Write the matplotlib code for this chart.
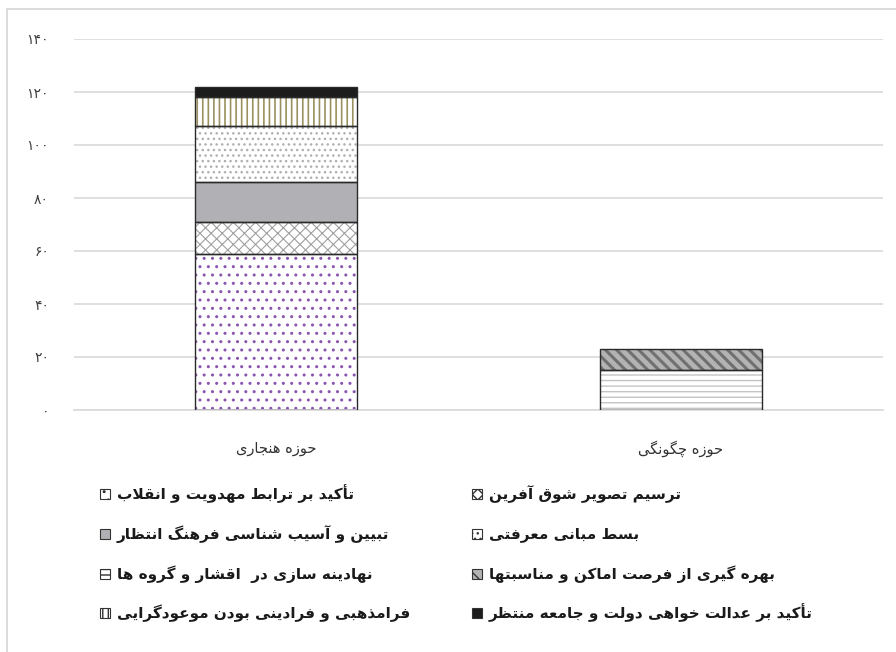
import numpy as np
import matplotlib.pyplot as plt
from matplotlib.patches import Rectangle

# --- data ---------------------------------------------------------------
categories = ['حوزه هنجاری', 'حوزه چگونگی']

series_names = [
    'تأکید بر ترابط مهدویت و انقلاب',
    'ترسیم تصویر شوق آفرین',
    'تبیین و آسیب شناسی فرهنگ انتظار',
    'بسط مبانی معرفتی',
    'فرامذهبی و فرادینی بودن موعودگرایی',
    'تأکید بر عدالت خواهی دولت و جامعه منتظر',
    'نهادینه سازی در  اقشار و گروه ها',
    'بهره گیری از فرصت اماکن و مناسبتها',
]
mahdaviat = [59, 0]
shogh = [12, 0]
farhang = [15, 0]
marefati = [21, 0]
faramazhabi = [11, 0]
edalat = [4, 0]
nahadine = [0, 15]
bahregiri = [0, 8]

series_values = [mahdaviat, shogh, farhang, marefati, faramazhabi, edalat,
                 nahadine, bahregiri]
yticks = [0, 20, 40, 60, 80, 100, 120, 140]

# fill, hatch colour, hatch, hatch width
styles = [
    ('white', '#8a55b0', '..', 1.0),
    ('white', '#a0a0a0', 'xxx', 0.8),
    ('#b1b1b5', '#b1b1b5', '', 1.0),
    ('white', '#b0b0b0', '...', 1.0),
    ('white', '#9a9060', '|||', 1.2),
    ('#1c1c1c', '#1c1c1c', '', 1.0),
    ('white', '#c4c4c4', '---', 1.0),
    ('#b3b3b3', '#707070', '\\\\\\', 2.2),
]

# --- simple arabic/persian shaping (matplotlib has no bidi) ---------------
FORMS = {
    'ا': (0xFE8D, 0xFE8E), 'آ': (0xFE81, 0xFE82), 'أ': (0xFE83, 0xFE84),
    'د': (0xFEA9, 0xFEAA), 'ذ': (0xFEAB, 0xFEAC), 'ر': (0xFEAD, 0xFEAE),
    'ز': (0xFEAF, 0xFEB0), 'ژ': (0xFB8A, 0xFB8B), 'و': (0xFEED, 0xFEEE),
    'ب': (0xFE8F, 0xFE90, 0xFE91, 0xFE92), 'پ': (0xFB56, 0xFB57, 0xFB58, 0xFB59),
    'ت': (0xFE95, 0xFE96, 0xFE97, 0xFE98), 'ث': (0xFE99, 0xFE9A, 0xFE9B, 0xFE9C),
    'ج': (0xFE9D, 0xFE9E, 0xFE9F, 0xFEA0), 'چ': (0xFB7A, 0xFB7B, 0xFB7C, 0xFB7D),
    'ح': (0xFEA1, 0xFEA2, 0xFEA3, 0xFEA4), 'خ': (0xFEA5, 0xFEA6, 0xFEA7, 0xFEA8),
    'س': (0xFEB1, 0xFEB2, 0xFEB3, 0xFEB4), 'ش': (0xFEB5, 0xFEB6, 0xFEB7, 0xFEB8),
    'ص': (0xFEB9, 0xFEBA, 0xFEBB, 0xFEBC), 'ض': (0xFEBD, 0xFEBE, 0xFEBF, 0xFEC0),
    'ط': (0xFEC1, 0xFEC2, 0xFEC3, 0xFEC4), 'ظ': (0xFEC5, 0xFEC6, 0xFEC7, 0xFEC8),
    'ع': (0xFEC9, 0xFECA, 0xFECB, 0xFECC), 'غ': (0xFECD, 0xFECE, 0xFECF, 0xFED0),
    'ف': (0xFED1, 0xFED2, 0xFED3, 0xFED4), 'ق': (0xFED5, 0xFED6, 0xFED7, 0xFED8),
    'ک': (0xFB8E, 0xFB8F, 0xFB90, 0xFB91), 'گ': (0xFB92, 0xFB93, 0xFB94, 0xFB95),
    'ل': (0xFEDD, 0xFEDE, 0xFEDF, 0xFEE0), 'م': (0xFEE1, 0xFEE2, 0xFEE3, 0xFEE4),
    'ن': (0xFEE5, 0xFEE6, 0xFEE7, 0xFEE8), 'ه': (0xFEE9, 0xFEEA, 0xFEEB, 0xFEEC),
    'ی': (0xFBFC, 0xFBFD, 0xFBFE, 0xFBFF),
}
LAM_ALEF = {'ا': (0xFEFB, 0xFEFC), 'أ': (0xFEF7, 0xFEF8), 'آ': (0xFEF5, 0xFEF6)}


def shape(text):
    chars = list(text)
    # lam-alef ligature
    merged = []
    i = 0
    while i < len(chars):
        if chars[i] == 'ل' and i + 1 < len(chars) and chars[i + 1] in LAM_ALEF:
            merged.append('ل' + chars[i + 1])
            i += 2
        else:
            merged.append(chars[i])
            i += 1

    def joins_next(c):
        return c in FORMS and len(FORMS[c]) == 4

    def joins(c):
        return c in FORMS or len(c) == 2

    out = []
    for k, c in enumerate(merged):
        prev = merged[k - 1] if k > 0 else ''
        nxt = merged[k + 1] if k + 1 < len(merged) else ''
        p = joins_next(prev) if len(prev) == 1 else False
        n = joins(nxt) and len(FORMS.get(c, ())) == 4
        if len(c) == 2:
            f = LAM_ALEF[c[1]]
            out.append(chr(f[1] if p else f[0]))
        elif c in FORMS:
            f = FORMS[c]
            if len(f) == 2:
                out.append(chr(f[1] if p else f[0]))
            else:
                if p and n:
                    out.append(chr(f[3]))
                elif p:
                    out.append(chr(f[1]))
                elif n:
                    out.append(chr(f[2]))
                else:
                    out.append(chr(f[0]))
        else:
            out.append(c)
    return ''.join(out[::-1])


def fa_num(v):
    return ''.join(chr(0x06F0 + int(d)) for d in str(v))


# --- figure -----------------------------------------------------------
plt.rcParams['font.family'] = ['DejaVu Sans']
plt.rcParams['hatch.linewidth'] = 1.0

fig = plt.figure(figsize=(8.96, 6.52), dpi=100)
W, H = 896, 652
ax = fig.add_axes([74 / W, 1 - 410 / H, (883 - 74) / W, (410 - 39) / H])

x = np.arange(len(categories))
bottom = np.zeros(len(categories))
for name, vals, (fc, hc, hatch, hw) in zip(series_names, series_values, styles):
    vals = np.array(vals, dtype=float)
    b = ax.bar(x, vals, 0.4, bottom=bottom, color=fc, edgecolor=hc,
               hatch=hatch, linewidth=0, zorder=2)
    for p in b:
        if hasattr(p, 'set_hatch_linewidth'):
            p.set_hatch_linewidth(hw)
    ax.bar(x, vals, 0.4, bottom=bottom, fill=False, edgecolor='#2a2a2a',
           linewidth=[1.0 if v > 0 else 0 for v in vals], zorder=3)
    bottom += vals

ax.set_xlim(-0.5, 1.5)
ax.set_ylim(0, 140)
ax.set_yticks(yticks)
ax.set_yticklabels([fa_num(v) for v in yticks], fontsize=10, color='#404040')
ax.set_xticks(x)
ax.set_xticklabels([shape(c) for c in categories], fontsize=10.5, color='#333333')
ax.tick_params(axis='y', length=0, pad=18)
ax.tick_params(axis='x', length=0, pad=22)
ax.grid(axis='y', color='#d9d9d9', linewidth=1.2, zorder=0)
ax.set_axisbelow(True)
for s in ['left', 'right', 'top']:
    ax.spines[s].set_visible(False)
ax.spines['bottom'].set_color('#d9d9d9')
ax.spines['bottom'].set_linewidth(1.2)

# outer chart border (cut at the right and bottom)
fig.add_artist(Rectangle((7 / W, -0.1), 1.2, 1.1 - 9 / H, transform=fig.transFigure,
                         fill=False, edgecolor='#d4d4d4', linewidth=1.2))

# legend, two columns, marker left of the text
col_x = [100, 472]
row_y = [494, 534, 574, 613]
order = [0, 2, 6, 4, 1, 3, 7, 5]
for k, idx in enumerate(order):
    cx = col_x[k // 4]
    cy = row_y[k % 4]
    fc, hc, hatch, hw = styles[idx]
    fig.add_artist(Rectangle((cx / W, 1 - (cy + 5) / H), 10 / W, 10 / H,
                             transform=fig.transFigure, facecolor=fc,
                             edgecolor='#333333', hatch=hatch.replace('\\\\\\', '\\\\'),
                             linewidth=0.8))
    fig.text((cx + 17) / W, 1 - cy / H, shape(series_names[idx]), fontsize=11,
             fontweight='bold', color='#1a1a1a', ha='left', va='center')

fig.savefig('out.png', dpi=100)
